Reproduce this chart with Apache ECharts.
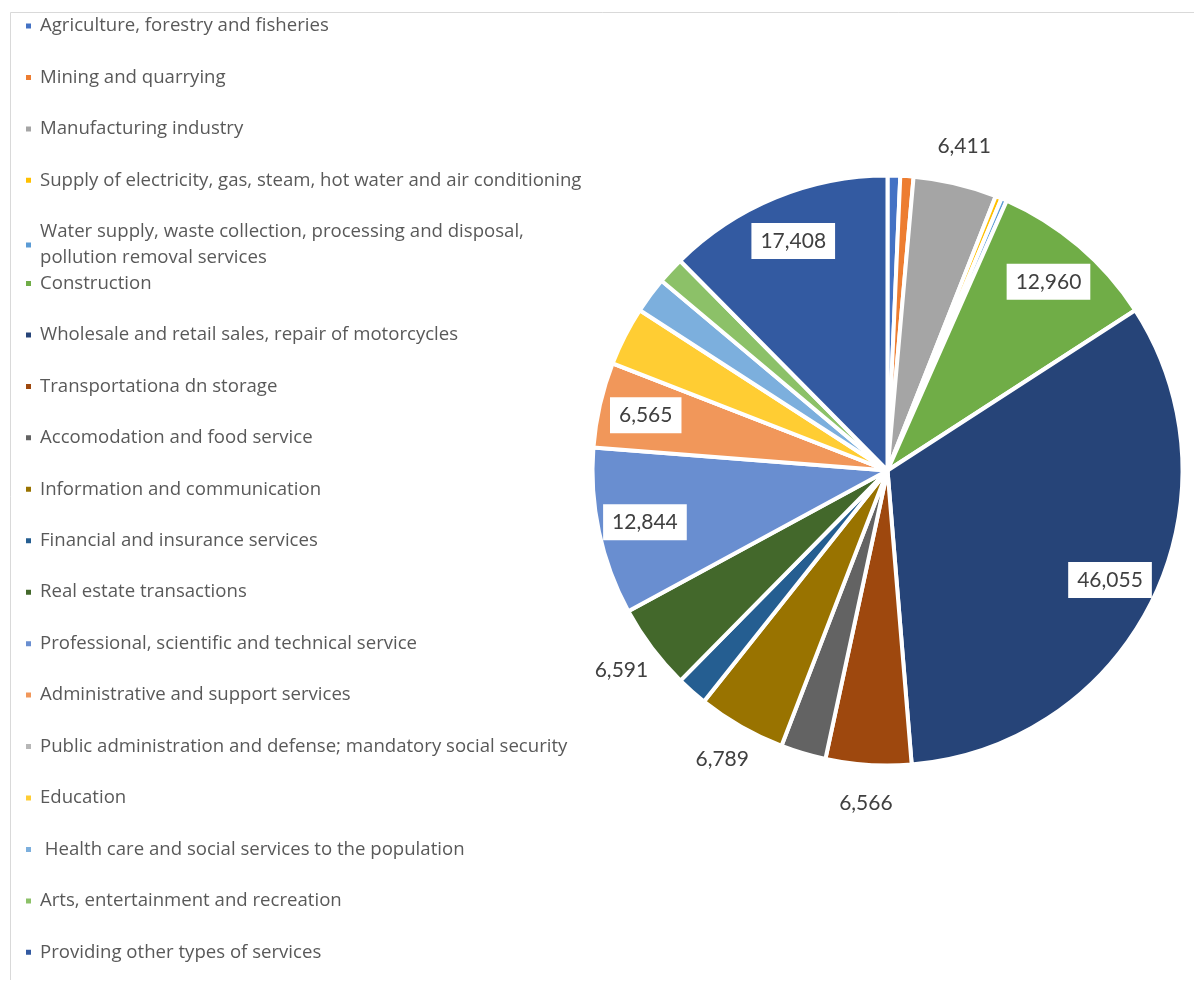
<!DOCTYPE html>
<html>
<head>
<meta charset="utf-8">
<script src="https://cdn.jsdelivr.net/npm/echarts@6/dist/echarts.min.js"></script>
<style>
html,body{margin:0;padding:0;background:#ffffff;}
#chart{width:1194px;height:983px;}
</style>
</head>
<body>
<div id="chart"></div>
<script>
// ---- data ----
const categories = [
  'Agriculture, forestry and fisheries',
  'Mining and quarrying',
  'Manufacturing industry',
  'Supply of electricity, gas, steam, hot water and air conditioning',
  'Water supply, waste collection, processing and disposal, pollution removal services',
  'Construction',
  'Wholesale and retail sales, repair of motorcycles',
  'Transportationa dn storage',
  'Accomodation and food service',
  'Information and communication',
  'Financial and insurance services',
  'Real estate transactions',
  'Professional, scientific and technical service',
  'Administrative and support services',
  'Public administration and defense; mandatory social security',
  'Education',
  ' Health care and social services to the population',
  'Arts, entertainment and recreation',
  'Providing other types of services'
];
const values = [970, 1010, 6411, 470, 430, 12960, 46055, 6566, 3470, 6789, 2380, 6591, 12844, 6565, 0, 4520, 2770, 2070, 17408];
// which slices show a boxed label inside, and which show a plain label outside
const insideLabelled = [5, 6, 12, 13, 18];
const outsideLabelled = [2, 7, 9, 11];

const colors = ['#4472C4','#ED7D31','#A5A5A5','#FFC000','#5B9BD5','#70AD47','#264478','#9E480E','#636363','#997300',
                '#255E91','#43682B','#698ED0','#F1975A','#B7B7B7','#FFCD33','#7CAFDD','#8CC168','#335AA1'];

const fmt = v => v.toLocaleString('en-US');
const CENTER = [887.5, 470.5];
const LEGEND_FONT = '"Open Sans", Lato, sans-serif';
const LABEL_FONT = 'Lato, "Open Sans", sans-serif';

const mainData = categories.map((n, i) => ({ name: n, value: values[i], itemStyle: { color: colors[i] } }));
const insideData = categories.map((n, i) => ({ name: n, value: values[i], label: { show: insideLabelled.includes(i) } }));
const outsideData = categories.map((n, i) => ({ name: n, value: values[i], label: { show: outsideLabelled.includes(i) } }));

const legendText = { fontFamily: LEGEND_FONT, fontSize: 18.6, color: '#595959', lineHeight: 20, padding: [0, 0, 0, 3] };

const option = {
  animation: false,
  backgroundColor: '#ffffff',
  graphic: [{
    type: 'polyline', silent: true,
    shape: { points: [[10.5, 980], [10.5, 12.5], [1194, 12.5]] },
    style: { stroke: '#d9d9d9', lineWidth: 1, fill: null }
  }],
  legend: [
    {
      orient: 'vertical', left: 24, top: 16, padding: 0, itemWidth: 7, itemHeight: 7, itemGap: 31.45,
      icon: 'rect', selectedMode: false, textStyle: legendText,
      data: categories.slice(0, 4)
    },
    {
      orient: 'vertical', left: 24, top: 206, padding: 0, itemWidth: 7, itemHeight: 7,
      icon: 'rect', selectedMode: false,
      textStyle: { fontFamily: LEGEND_FONT, fontSize: 18.6, color: '#595959', lineHeight: 26, padding: [26, 0, 0, 3] },
      formatter: name => name.replace('disposal, ', 'disposal,\n'),
      data: categories.slice(4, 5)
    },
    {
      orient: 'vertical', left: 24, top: 273.5, padding: 0, itemWidth: 7, itemHeight: 7, itemGap: 31.45,
      icon: 'rect', selectedMode: false, textStyle: legendText,
      data: categories.slice(5)
    }
  ],
  series: [
    {
      type: 'pie', center: CENTER, radius: 295, startAngle: 90, clockwise: true,
      silent: true, label: { show: false }, labelLine: { show: false },
      itemStyle: { borderColor: '#ffffff', borderWidth: 4 },
      emphasis: { disabled: true },
      data: mainData
    },
    {
      type: 'pie', center: CENTER, radius: [195, 295], startAngle: 90, clockwise: true,
      silent: true, labelLine: { show: false },
      itemStyle: { color: 'rgba(0,0,0,0)', borderWidth: 0 },
      emphasis: { disabled: true },
      label: {
        position: 'inside', formatter: p => fmt(p.value),
        fontFamily: LABEL_FONT, fontSize: 21, color: '#404040',
        backgroundColor: '#ffffff', padding: [8, 9, 7, 9]
      },
      data: insideData
    },
    {
      type: 'pie', center: CENTER, radius: [304, 356], startAngle: 90, clockwise: true,
      silent: true, labelLine: { show: false },
      itemStyle: { color: 'rgba(0,0,0,0)', borderWidth: 0 },
      emphasis: { disabled: true },
      label: {
        position: 'inside', formatter: p => fmt(p.value),
        fontFamily: LABEL_FONT, fontSize: 21, color: '#404040'
      },
      data: outsideData
    }
  ]
};

const chart = echarts.init(document.getElementById('chart'), null, { renderer: 'canvas' });
chart.setOption(option);
</script>
</body>
</html>
